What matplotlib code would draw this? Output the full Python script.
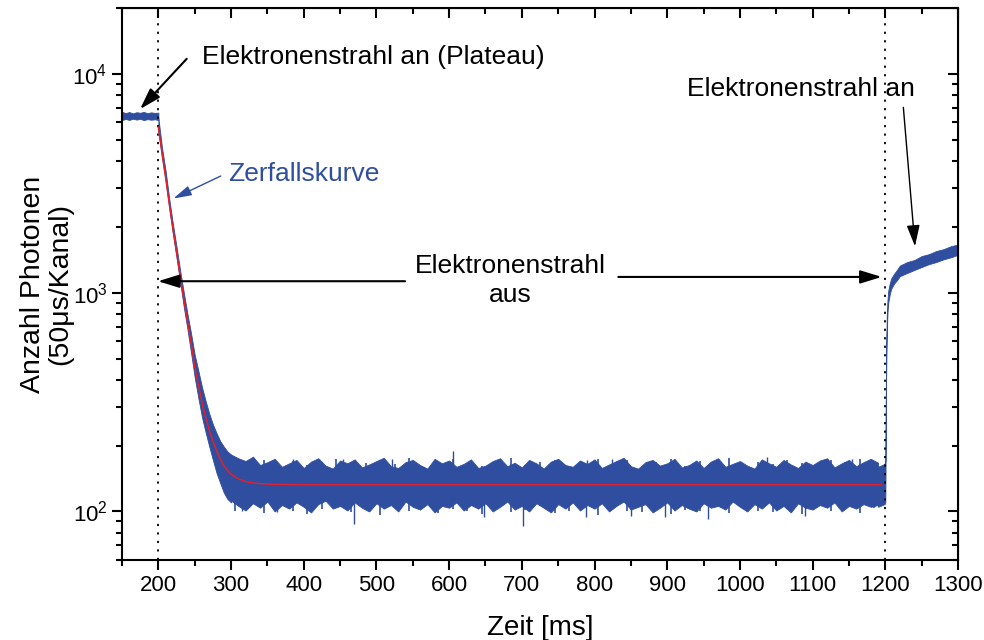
import numpy as np
import matplotlib
matplotlib.use("Agg")
import matplotlib.pyplot as plt

plt.rcParams['font.family'] = ['Liberation Sans', 'DejaVu Sans']
plt.rcParams['mathtext.fontset'] = 'custom'
plt.rcParams['mathtext.rm'] = 'Liberation Sans'
plt.rcParams['mathtext.it'] = 'Liberation Sans:italic'
plt.rcParams['mathtext.bf'] = 'Liberation Sans:bold'

BLUE = '#2f4e9f'
RED = '#e3202b'

## plateau before the beam is switched off
plateau_x = [150, 155, 160, 165, 170, 175, 180, 185, 190, 195, 200]
plateau_hi = [6700, 6620, 6690, 6600, 6680, 6640, 6700, 6610, 6670, 6630, 6650]
plateau_lo = [6150, 6220, 6160, 6240, 6180, 6230, 6150, 6210, 6170, 6200, 6150]

## decay part of the measured signal (envelope)
decay_x = [200, 205, 210, 215, 220, 225, 230, 235, 240, 245, 250,
           255, 260, 265, 270, 275, 280, 285, 290, 295, 300]
decay_hi = [6300, 4600, 3600, 2680, 2060, 1620, 1260, 1000, 800, 650, 520,
            440, 370, 320, 280, 250, 228, 210, 198, 188, 182]
decay_lo = [5500, 4150, 3250, 2430, 1860, 1450, 1120, 860, 680, 530, 410,
            330, 270, 230, 198, 172, 150, 135, 122, 114, 110]

## background noise band, one value every 10 ms from 300 to 1190 ms
base_x = np.arange(300, 1200, 10)
base_hi = [182, 175, 170, 178, 163, 168, 174, 160, 166, 172,
           158, 169, 175, 162, 157, 171, 166, 173, 159, 164,
           170, 176, 161, 158, 168, 172, 163, 157, 174, 166,
           171, 160, 165, 173, 158, 162, 170, 175, 161, 167,
           159, 172, 166, 157, 169, 174, 163, 160, 171, 165,
           173, 158, 164, 170, 176, 161, 157, 168, 172, 162,
           166, 174, 159, 163, 171, 158, 169, 175, 160, 165,
           170, 162, 157, 173, 166, 160, 172, 164, 158, 169,
           163, 171, 175, 159, 166, 172, 161, 168, 174, 167]
base_lo = [112, 106, 101, 109, 104, 111, 100, 107, 103, 110,
           105, 99, 108, 112, 103, 106, 101, 110, 104, 100,
           109, 103, 107, 100, 111, 105, 102, 108, 99, 106,
           104, 110, 101, 107, 103, 109, 100, 105, 111, 102,
           106, 100, 109, 104, 99, 108, 103, 110, 101, 107,
           103, 109, 100, 106, 111, 102, 105, 108, 99, 104,
           110, 101, 107, 103, 100, 109, 104, 106, 102, 111,
           105, 100, 108, 103, 110, 101, 106, 99, 109, 104,
           102, 107, 104, 110, 100, 106, 103, 108, 105, 107]

## smaller spikes in between, every 20 ms starting at 305 ms
mid_x = np.arange(305, 1200, 20)
mid_up_y = [176, 168, 172, 165, 170, 163, 169, 174, 161, 167,
            171, 164, 176, 160, 168, 173, 166, 162, 170, 175,
            163, 169, 172, 158, 167, 174, 165, 171, 160, 168,
            173, 162, 170, 166, 175, 161, 169, 164, 172, 167,
            160, 171, 168, 174, 166]
mid_dn_y = [100, 104, 98, 106, 101, 97, 103, 105, 99, 102,
            96, 104, 100, 107, 98, 103, 101, 97, 105, 99,
            102, 106, 98, 100, 104, 96, 103, 101, 99, 105,
            97, 102, 100, 106, 98, 104, 101, 99, 103, 97,
            105, 100, 102, 98, 104]

## single large spikes in the background
spike_up_x = [385, 454, 521, 605, 790, 824, 970, 1037, 1154]
spike_up_y = [174, 173, 174, 188, 172, 174, 174, 177, 174]
spike_dn_x = [315, 363, 469, 648, 702, 788, 850, 897, 956, 1089]
spike_dn_y = [100, 99, 88, 94, 86, 94, 95, 94, 92, 95]

## beam switched on again
rise_x = [1190, 1199, 1200, 1200.5, 1201, 1202, 1203, 1204, 1206, 1208, 1212,
          1216, 1220, 1230, 1240, 1250, 1260, 1270, 1280, 1290, 1300]
rise_hi = [160, 165, 170, 300, 520, 790, 930, 1020, 1100, 1160, 1220,
           1270, 1330, 1380, 1410, 1470, 1500, 1550, 1580, 1630, 1660]
rise_lo = [105, 108, 110, 200, 390, 660, 810, 900, 980, 1040, 1100,
           1140, 1190, 1230, 1270, 1310, 1350, 1380, 1420, 1450, 1490]

## exponential fit (Zerfallskurve)
fit_x = [200, 205, 210, 215, 220, 225, 230, 235, 240, 245, 250, 255, 260,
         265, 270, 275, 280, 285, 290, 295, 300, 310, 320, 330, 340, 360,
         400, 1195]
fit_y = [5700, 4350, 3350, 2550, 1960, 1530, 1190, 930, 740, 590, 460, 380,
         315, 270, 235, 210, 190, 174, 162, 154, 148, 141, 137, 135, 134,
         133, 132.5, 132.5]

fig = plt.figure(figsize=(9.84, 6.4), dpi=100)
ax = fig.add_axes([0.124, 0.125, 0.8496, 0.8625])

ax.fill_between(plateau_x, plateau_lo, plateau_hi, color=BLUE, lw=0.6)
ax.fill_between(decay_x, decay_lo, decay_hi, color=BLUE, lw=0.6)
ax.fill_between(base_x, base_lo, base_hi, color=BLUE, lw=0.6)
ax.fill_between(rise_x, rise_lo, rise_hi, color=BLUE, lw=0.6)
ax.vlines(mid_x, 132, mid_up_y, color=BLUE, lw=1.2)
ax.vlines(mid_x, mid_dn_y, 132, color=BLUE, lw=1.2)
ax.vlines(spike_up_x, 132, spike_up_y, color=BLUE, lw=1.0)
ax.vlines(spike_dn_x, spike_dn_y, 132, color=BLUE, lw=1.0)
ax.plot(fit_x, fit_y, color=RED, lw=1.1, zorder=3)

ax.axvline(200, color='k', ls=(0, (1.2, 3.5)), lw=1.3)
ax.axvline(1200, color='k', ls=(0, (1.2, 3.5)), lw=1.3)

ax.set_yscale('log')
ax.set_xlim(150, 1300)
ax.set_ylim(60, 20000)
ax.set_xticks(np.arange(200, 1301, 100))
ax.set_xticks(np.arange(150, 1301, 50), minor=True)

for s in ax.spines.values():
    s.set_linewidth(1.5)
ax.tick_params(which='both', direction='out', width=1.5, labelsize=16)
ax.tick_params(which='major', length=7)
ax.tick_params(which='minor', length=4.5)

## mirrored ticks on top and right point inwards
ax2 = ax.secondary_xaxis('top')
ax2.set_xticks(np.arange(200, 1301, 100))
ax2.set_xticks(np.arange(150, 1301, 50), minor=True)
ax2.tick_params(which='both', direction='in', width=1.5, labeltop=False)
ax2.tick_params(which='major', length=7)
ax2.tick_params(which='minor', length=4.5)
ax3 = ax.secondary_yaxis('right')
ax3.set_yscale('log')
ax3.tick_params(which='both', direction='in', width=1.5, labelright=False)
ax3.tick_params(which='major', length=7)
ax3.tick_params(which='minor', length=4.5)

ax.set_xlabel('Zeit [ms]', fontsize=20, labelpad=14)
ax.set_ylabel('Anzahl Photonen\n(50μs/Kanal)', fontsize=20.5, linespacing=1.1)
ax.yaxis.set_label_coords(-0.058, 0.5)

fs = 19
arrow_k = dict(arrowstyle='-|>,head_length=1.3,head_width=0.4', color='k',
               lw=1.5, shrinkA=0, shrinkB=0, mutation_scale=10)
arrow_thin = dict(arrowstyle='-|>,head_length=1.3,head_width=0.4', color='k',
                  lw=1.0, shrinkA=0, shrinkB=0, mutation_scale=10)
arrow_b = dict(arrowstyle='-|>,head_length=1.1,head_width=0.3', color=BLUE,
               lw=1.0, shrinkA=0, shrinkB=0, mutation_scale=10)

ax.text(260, 11970, 'Elektronenstrahl an (Plateau)', fontsize=fs, va='center')
ax.annotate('', xy=(174.8, 6900), xytext=(239, 11720), arrowprops=arrow_k)

ax.text(296, 3475, 'Zerfallskurve', fontsize=fs, va='center', color=BLUE)
ax.annotate('', xy=(220.6, 2692), xytext=(285.8, 3413), arrowprops=arrow_b)

ax.text(683.7, 1135, 'Elektronenstrahl\naus', fontsize=fs, va='center',
        ha='center', linespacing=1.25)
ax.annotate('', xy=(199.5, 1128), xytext=(539.3, 1128), arrowprops=arrow_k)
ax.annotate('', xy=(1195, 1180), xytext=(832.7, 1180), arrowprops=arrow_k)

ax.text(926.8, 8530, 'Elektronenstrahl an', fontsize=fs, va='center')
ax.annotate('', xy=(1240.8, 1629), xytext=(1224.8, 7030), arrowprops=arrow_thin)

fig.savefig('out.png', dpi=100)
